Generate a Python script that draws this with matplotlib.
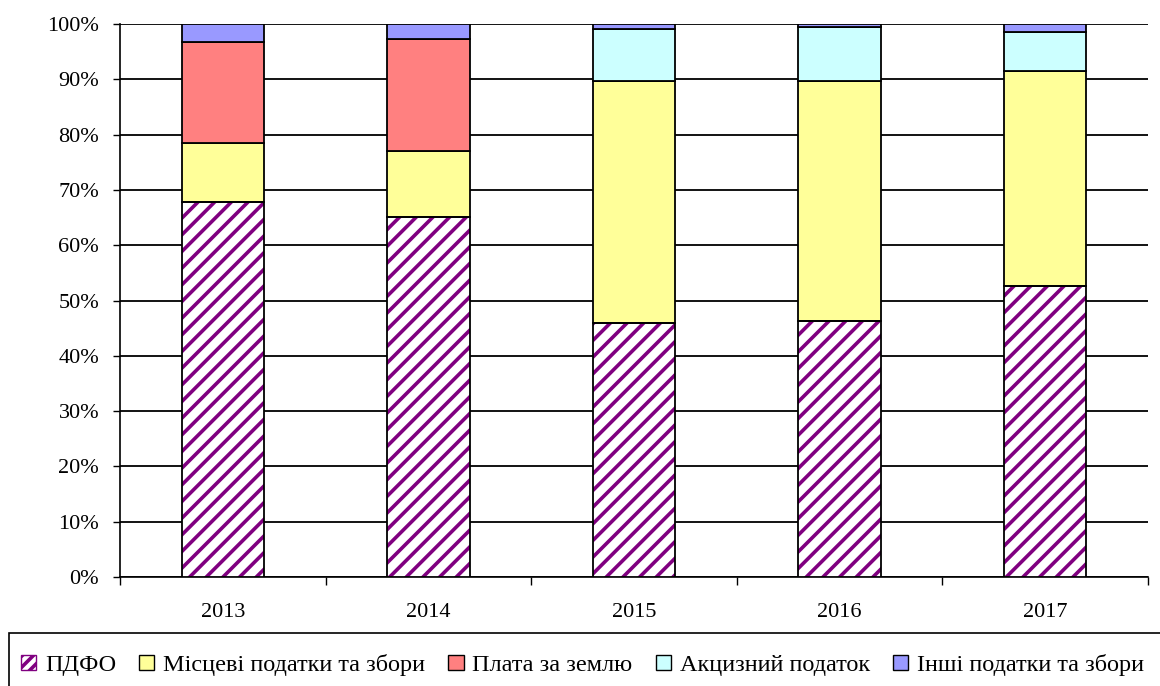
import numpy as np
import matplotlib.pyplot as plt
from matplotlib.patches import Rectangle, Patch
from matplotlib.ticker import PercentFormatter

plt.rcParams["font.family"] = ["Liberation Serif", "DejaVu Serif"]
plt.rcParams["hatch.linewidth"] = 2.6

years = ["2013", "2014", "2015", "2016", "2017"]

# частки, %
pdfo = [67.8, 65.1, 45.9, 46.3, 52.7]
local_taxes = [10.7, 11.9, 43.8, 43.4, 38.8]
land_fee = [18.2, 20.3, 0.0, 0.0, 0.0]
excise = [0.0, 0.0, 9.4, 9.8, 7.0]
other = [3.3, 2.7, 0.9, 0.5, 1.5]

series = [
    ("ПДФО", pdfo, "white", "//"),
    ("Місцеві податки та збори", local_taxes, "#FFFF99", None),
    ("Плата за землю", land_fee, "#FF8080", None),
    ("Акцизний податок", excise, "#CCFFFF", None),
    ("Інші податки та збори", other, "#9999FF", None),
]
PURPLE = "#800080"

fig = plt.figure(figsize=(11.6, 6.86), dpi=100)
ax = fig.add_axes([120 / 1160, 1 - 577 / 686, 1028 / 1160, 553 / 686])

x = np.arange(len(years))
bottom = np.zeros(len(years))
handles = []
for name, vals, color, hatch in series:
    vals = np.array(vals)
    if hatch:
        # штриховка фіолетова, контур чорний
        ax.bar(x, vals, 0.4, bottom=bottom, color=color, edgecolor=PURPLE,
               linewidth=0, hatch=hatch, zorder=3)
        ax.bar(x, vals, 0.4, bottom=bottom, fill=False, edgecolor="black",
               linewidth=1.3, zorder=4)
        handles.append(Patch(facecolor="white", edgecolor=PURPLE, hatch="///",
                             linewidth=1.0, label=name))
    else:
        ax.bar(x, vals, 0.4, bottom=bottom, color=color, edgecolor="black",
               linewidth=1.3, zorder=3)
        handles.append(Patch(facecolor=color, edgecolor="black", linewidth=1.0,
                             label=name))
    bottom += vals

ax.set_xlim(-0.5, len(years) - 0.5)
ax.set_ylim(0, 100)
ax.set_yticks(np.arange(0, 101, 10))
ax.yaxis.set_major_formatter(PercentFormatter(decimals=0))
ax.set_xticks(x)
ax.set_xticklabels(years)
ax.set_xticks(np.arange(-0.5, len(years), 1), minor=True)
ax.tick_params(axis="x", which="major", length=0, pad=19, labelsize=16)
ax.tick_params(axis="x", which="minor", length=6, direction="out", width=1)
ax.tick_params(axis="y", length=5, width=1, labelsize=16, pad=10)
ax.grid(axis="y", color="black", linewidth=1.3, zorder=0)

for s in ["top", "right"]:
    ax.spines[s].set_visible(False)
ax.spines["left"].set_linewidth(1.2)
ax.spines["bottom"].set_linewidth(1.2)

fig.patches.append(Rectangle((9 / 1160, -0.01), 1.0, 1 - 633 / 686 + 0.01,
                             transform=fig.transFigure, fill=False,
                             edgecolor="black", linewidth=1.2))
leg = fig.legend(handles=handles, loc="center left",
                 bbox_to_anchor=(21 / 1160, 1 - 665 / 686), ncol=5,
                 frameon=False, fontsize=17.5, handlelength=0.62,
                 handleheight=0.62, handletextpad=0.37, columnspacing=0.95,
                 borderaxespad=0.0, borderpad=0.0)

fig.savefig("out.png", dpi=100)
